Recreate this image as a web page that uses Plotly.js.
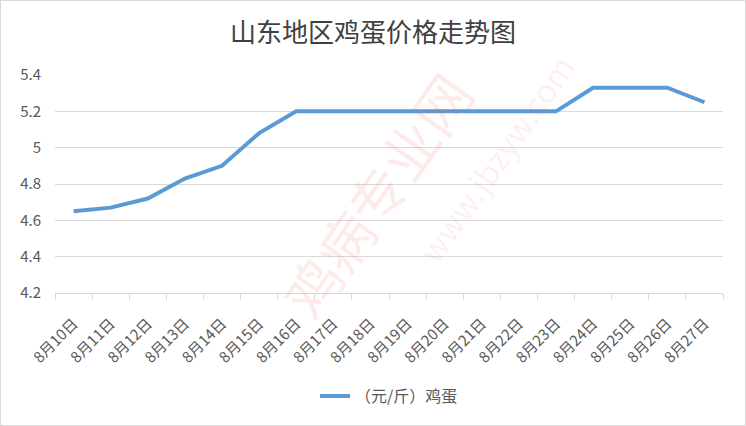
<!DOCTYPE html>
<html><head><meta charset="utf-8">
<script src="https://cdn.plot.ly/plotly-3.0.1.min.js"></script>
<style>
html,body{margin:0;padding:0;background:#fff;}
#wrap{width:746px;height:426px;box-sizing:border-box;border:1px solid #d9d9d9;overflow:hidden;}
#chart{width:744px;height:424px;}
</style></head>
<body><div id="wrap"><div id="chart"></div></div>
<script>
const categories = ["8月10日","8月11日","8月12日","8月13日","8月14日","8月15日","8月16日","8月17日","8月18日","8月19日","8月20日","8月21日","8月22日","8月23日","8月24日","8月25日","8月26日","8月27日"];
const eggPrice = [4.65,4.67,4.72,4.83,4.90,5.08,5.20,5.20,5.20,5.20,5.20,5.20,5.20,5.20,5.33,5.33,5.33,5.25];
const seriesName = "（元/斤）鸡蛋";
const yTicks = [4.2,4.4,4.6,4.8,5,5.2,5.4];
const yTickText = ["4.2","4.4","4.6","4.8","5","5.2","5.4"];

const font = "'Noto Sans CJK SC', 'Noto Sans', sans-serif";
Plotly.newPlot('chart', [{
  x: categories, y: eggPrice, type: 'scatter', mode: 'lines', name: seriesName,
  line: {color: '#5b9bd5', width: 4}
}], {
  width: 744, height: 424,
  margin: {l: 54, r: 22, t: 74, b: 132},
  paper_bgcolor: '#fff', plot_bgcolor: '#fff',
  title: {text: '山东地区鸡蛋价格走势图', x: 0.5, xanchor: 'center', yref: 'container', y: 0.924, yanchor: 'middle',
          font: {family: font, size: 26, color: '#404040'}},
  font: {family: font, color: '#595959', size: 13},
  xaxis: {type: 'category', range: [-0.5, categories.length - 0.5], tickson: 'boundaries', ticks: 'outside', ticklen: 6, tickcolor: '#d9d9d9',
          showline: true, linecolor: '#d9d9d9', linewidth: 1, showgrid: false, tickangle: -45, automargin: false,
          ticklabelstandoff: 15,
          tickfont: {family: font, size: 15, color: '#595959'}, fixedrange: true},
  yaxis: {range: [4.2, 5.4], tickvals: yTicks, ticktext: yTickText, showgrid: true, gridcolor: '#d9d9d9', automargin: false,
          zeroline: false, showline: false, ticks: '', tickfont: {family: font, size: 15, color: '#595959'},
          ticklabelstandoff: 13},
  showlegend: true,
  legend: {orientation: 'h', x: 0.5, xanchor: 'center', yref: 'container', y: 0.068, yanchor: 'middle',
           font: {family: font, size: 16, color: '#595959'}},
  annotations: [
    {text: '鸡病专业网', xref: 'paper', yref: 'paper', x: 0.48, y: 0.45, showarrow: false, textangle: -55,
     font: {family: font, size: 56, color: 'rgba(235,90,70,0.12)'}},
    {text: 'www.jbzyw.com', xref: 'paper', yref: 'paper', x: 0.66, y: 0.62, showarrow: false, textangle: -55,
     font: {family: font, size: 32, color: 'rgba(235,90,70,0.09)'}}
  ]
}, {displayModeBar: false, staticPlot: true});
</script></body></html>
